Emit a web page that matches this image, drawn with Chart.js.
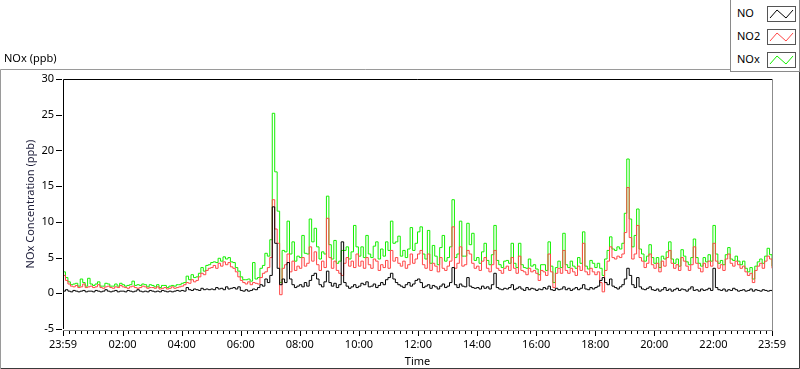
<!DOCTYPE html>
<html><head><meta charset="utf-8">
<script src="https://cdn.jsdelivr.net/npm/chart.js@4.4.1/dist/chart.umd.min.js"></script>
<style>
html,body{margin:0;padding:0;background:#fff;}
#wrap{position:relative;width:800px;height:369px;font-family:'Noto Sans',sans-serif;font-size:11px;color:#000;overflow:hidden;}
canvas{position:absolute;left:0;top:0;}
#ttl{position:absolute;left:4px;top:50px;line-height:16px;}
#legend{position:absolute;left:730px;top:0;width:68px;height:71px;border:1px solid #8a8a8a;border-top:none;background:#fff;}
.li{position:absolute;left:6px;height:16px;line-height:16px;}
.sw{position:absolute;left:36px;width:27px;height:14px;border:1px solid #555;background:#fff;}
.sw svg{position:absolute;left:0;top:0;}
</style></head><body>
<div id="wrap">
<canvas id="c" width="800" height="369"></canvas>
<div id="ttl">NOx (ppb)</div>
<div id="legend"></div>
</div>
<script>
// ---- data (5-minute samples from 23:59 to 23:59) ----
const seriesNames = ['NO', 'NO2', 'NOx'];
const sampleStepMinutes = 5;
const tickMinutes = [0, 121, 241, 361, 481, 601, 721, 841, 961, 1081, 1201, 1321, 1440];
const tickLabels = ['23:59','02:00','04:00','06:00','08:00','10:00','12:00','14:00','16:00','18:00','20:00','22:00','23:59'];
const yTicks = [-5, 0, 5, 10, 15, 20, 25, 30];

const NO = [
0.3,0.5,0.3,0.2,0.4,0.3,0.2,0.3,0.4,0.2,0.3,0.3,
0.2,0.4,0.3,0.2,0.3,0.5,0.3,0.2,0.3,0.4,0.2,0.3,
0.3,0.2,0.4,0.3,0.2,0.3,0.5,0.3,0.2,0.3,0.2,0.4,
0.3,0.2,0.3,0.2,0.4,0.3,0.2,0.3,0.2,0.3,0.4,0.3,
0.4,0.3,0.8,0.5,0.4,0.6,0.5,0.4,0.7,0.5,0.6,0.5,
0.6,0.5,0.8,0.6,0.7,0.5,0.9,0.6,0.7,0.8,0.6,0.9,
0.4,0.3,0.5,0.3,0.4,0.6,0.5,0.8,1.2,1.0,2.0,1.5,
2.5,12.1,7.0,3.5,1.2,2.0,1.5,4.3,2.0,1.2,0.8,1.0,
1.2,0.9,1.5,1.0,1.8,2.5,2.8,2.0,1.2,0.9,1.6,3.1,
1.5,1.0,1.4,0.8,1.2,7.2,1.5,1.0,0.7,0.9,1.2,0.8,
1.0,1.4,1.2,1.6,0.9,1.0,1.3,0.8,1.1,1.5,1.2,1.9,
2.2,2.8,2.0,1.5,1.2,1.0,0.8,1.2,1.5,1.0,1.3,1.8,
2.0,1.5,0.8,1.0,1.2,0.7,1.1,0.9,0.6,1.0,1.3,0.8,
1.0,1.5,3.6,1.2,0.8,1.3,1.0,0.9,2.2,1.0,0.8,0.7,
0.8,0.6,1.0,0.7,0.9,0.6,1.2,2.8,0.8,0.6,0.5,0.7,
0.6,0.8,1.2,0.5,0.7,0.9,0.6,0.4,0.8,0.5,0.7,0.6,
0.4,0.6,0.5,0.8,0.6,1.0,0.5,0.4,0.7,0.5,0.6,0.9,
0.5,0.7,0.4,0.6,0.8,0.5,0.7,1.2,0.6,0.5,0.8,0.6,
0.8,1.0,1.8,2.2,1.5,1.2,2.0,1.0,0.8,0.6,0.9,1.2,
2.0,3.5,2.5,1.2,0.8,2.2,0.9,0.6,0.5,0.7,0.9,0.5,
0.4,0.6,0.3,0.5,0.8,0.4,0.6,0.3,0.5,0.7,0.4,0.6,
0.5,0.3,0.6,0.9,0.4,0.5,0.3,0.6,0.4,0.5,0.7,0.4,
3.5,0.8,0.5,0.4,0.6,0.3,0.5,0.4,0.7,0.5,0.3,0.4,
0.5,0.3,0.4,0.6,0.3,0.5,0.4,0.3,0.5,0.4,0.3,0.4,
0.3];

const NO2 = [
2.5,1.8,1.3,1.0,0.9,1.1,0.8,0.9,1.3,0.8,0.9,1.0,
0.8,0.9,1.2,0.8,0.7,0.9,1.0,0.8,0.7,0.9,0.8,1.1,
0.9,0.8,0.7,0.9,1.0,0.8,0.7,0.8,1.0,0.9,0.7,0.8,
0.8,0.7,0.9,0.6,0.7,0.8,0.6,0.7,0.9,0.7,0.8,0.9,
1.0,1.2,1.5,1.4,1.9,1.6,1.8,2.3,2.8,2.6,3.2,3.5,
3.6,3.9,3.5,4.2,3.8,4.4,4.0,4.3,3.7,3.5,3.0,2.3,
1.8,1.5,1.3,1.6,1.2,1.5,1.4,1.3,2.2,2.8,3.0,3.6,
5.0,13.1,9.0,7.0,-0.2,3.5,4.0,5.5,3.0,4.5,3.2,3.8,
3.5,5.0,3.8,4.2,6.5,4.5,5.8,4.0,3.2,4.5,3.6,10.5,
5.0,3.5,4.5,3.2,2.8,2.5,4.2,5.0,3.8,4.5,3.6,5.5,
3.8,4.5,3.5,5.0,4.0,3.5,4.8,4.5,3.2,4.0,3.6,4.6,
3.5,6.0,4.5,5.0,4.2,3.8,4.5,3.5,4.0,5.5,4.2,4.8,
5.5,6.0,4.0,3.5,5.5,3.2,4.2,3.8,3.0,5.0,3.5,3.2,
3.8,4.5,9.3,3.5,4.2,6.5,3.8,4.0,6.0,5.5,4.2,3.5,
3.8,3.2,4.5,5.0,3.5,3.0,4.0,6.0,3.5,3.2,2.8,3.5,
3.8,3.2,5.0,3.5,2.8,5.2,3.2,3.0,2.6,3.5,3.0,3.2,
2.8,1.8,3.2,3.0,2.5,5.5,3.0,0.8,2.8,3.5,2.8,6.0,
3.2,2.8,3.5,3.0,2.5,3.8,3.2,7.0,3.0,2.6,3.5,3.0,
2.6,3.0,1.5,0.2,3.2,4.5,6.5,5.0,4.8,5.2,5.0,5.5,
8.5,14.8,7.8,4.8,5.5,9.5,5.0,4.5,3.6,4.2,5.5,4.0,
3.5,4.2,3.0,4.5,3.8,5.0,6.0,4.2,3.5,4.0,3.2,5.0,
4.5,3.8,3.2,4.0,6.5,4.2,3.5,3.0,4.2,3.6,4.5,3.8,
7.0,4.5,3.5,4.0,3.2,4.8,5.5,4.2,3.8,4.5,4.0,3.5,
3.8,3.0,2.5,2.8,1.5,3.2,3.8,4.2,3.5,4.5,5.2,4.8,
3.5];

const NOx = [
3.0,2.2,1.6,1.2,1.3,1.4,1.0,2.0,1.5,1.0,2.1,1.3,
1.1,1.3,1.6,1.0,1.0,1.4,1.3,1.0,1.0,1.3,1.0,1.4,
1.2,1.0,1.1,1.2,1.7,1.1,1.2,1.1,1.3,1.2,0.9,1.2,
1.1,0.9,1.2,0.8,1.1,1.1,0.8,1.0,1.1,1.0,1.2,1.2,
1.4,1.5,2.4,1.9,2.6,2.2,2.3,2.8,3.6,3.1,3.9,4.0,
4.3,4.4,4.3,4.9,4.5,5.1,4.8,5.0,4.4,4.3,3.6,3.1,
2.3,1.9,1.9,2.0,1.7,4.3,2.0,2.2,3.5,3.9,5.6,5.2,
7.5,25.2,17.0,11.5,1.5,6.0,5.8,10.1,5.5,7.2,4.5,5.2,
5.0,8.1,5.6,5.5,10.4,7.2,9.1,6.5,4.8,5.8,5.5,13.6,
6.8,4.8,7.4,4.2,4.5,6.0,6.0,6.5,4.8,5.8,9.5,6.5,
5.2,6.5,5.0,8.1,5.5,5.0,6.6,7.2,4.8,6.2,5.2,7.2,
6.0,10.1,7.0,7.2,8.0,5.2,6.0,5.0,6.2,9.2,6.0,7.0,
8.6,9.3,5.5,4.8,8.8,4.2,6.7,5.2,4.0,6.4,8.1,4.5,
5.0,6.5,13.1,5.0,5.5,10.1,5.2,5.2,9.8,6.8,8.4,4.6,
5.0,4.2,5.8,7.0,4.6,4.0,5.4,9.5,4.6,4.0,3.6,4.5,
4.6,4.2,7.0,4.2,3.6,7.0,4.0,3.6,3.5,4.8,3.8,4.0,
3.4,2.6,4.0,4.0,3.2,7.2,3.8,1.5,3.6,4.5,3.6,8.4,
4.0,3.6,4.5,3.8,3.5,5.0,4.2,8.6,3.8,3.4,4.6,4.2,
3.6,4.2,3.5,2.5,4.8,6.0,7.9,6.2,6.0,6.5,6.2,7.0,
11.2,18.8,10.4,6.5,8.1,11.8,6.2,5.5,4.5,5.2,6.8,5.0,
4.2,5.0,3.6,5.2,4.8,5.8,7.2,4.8,4.2,4.8,3.8,6.1,
5.2,4.4,4.0,5.0,7.6,5.0,4.2,3.8,5.0,4.4,5.4,4.5,
9.5,5.5,4.2,4.6,4.0,5.4,6.4,4.8,4.6,5.2,4.5,4.0,
4.5,3.5,3.0,3.6,2.0,3.8,4.4,4.8,4.2,5.2,6.3,5.4,
3.8];

const colors = { NO: '#000000', NO2: '#ff4646', NOx: '#14f000' };

// ---- build ----
const toPts = arr => arr.map((v, i) => ({ x: i * sampleStepMinutes, y: v }));
const FONT = "'Noto Sans', sans-serif";

// legend
const lg = document.getElementById('legend');
seriesNames.forEach((n, i) => {
  const t = document.createElement('div');
  t.className = 'li'; t.style.top = (5 + i * 23) + 'px'; t.textContent = n;
  lg.appendChild(t);
  const s = document.createElement('div');
  s.className = 'sw'; s.style.top = (6 + i * 23) + 'px';
  s.innerHTML = '<svg width="27" height="14"><polyline points="2,11 9,3 18,11 25,3" fill="none" stroke="' + colors[n] + '" stroke-width="1"/></svg>';
  lg.appendChild(s);
});

const framePlugin = {
  id: 'frame',
  afterDraw(chart) {
    const ctx = chart.ctx, a = chart.chartArea;
    const xs = chart.scales.x, ys = chart.scales.y;
    ctx.save();
    ctx.lineWidth = 1;
    // outer frame
    ctx.strokeStyle = '#9a9a9a';
    ctx.beginPath(); ctx.moveTo(0.5, 368); ctx.lineTo(0.5, 69.5); ctx.lineTo(730, 69.5); ctx.stroke();
    ctx.strokeStyle = '#3a3a3a';
    ctx.beginPath(); ctx.moveTo(0.5, 368.5); ctx.lineTo(799.5, 368.5); ctx.lineTo(799.5, 71); ctx.stroke();
    // plot borders
    ctx.strokeStyle = '#000';
    ctx.beginPath(); ctx.moveTo(Math.round(a.left) + 0.5, Math.round(a.bottom));
    ctx.lineTo(Math.round(a.left) + 0.5, Math.round(a.top) + 0.5);
    ctx.lineTo(Math.round(a.right), Math.round(a.top) + 0.5); ctx.stroke();
    ctx.strokeStyle = '#8c8c8c';
    ctx.beginPath(); ctx.moveTo(Math.round(a.right) + 0.5, Math.round(a.top));
    ctx.lineTo(Math.round(a.right) + 0.5, Math.round(a.bottom) + 1.5);
    ctx.moveTo(Math.round(a.left), Math.round(a.bottom) + 1.5);
    ctx.lineTo(Math.round(a.right) + 1, Math.round(a.bottom) + 1.5); ctx.stroke();
    // y ticks
    ctx.strokeStyle = '#000';
    ctx.beginPath();
    yTicks.forEach(v => {
      const y = Math.round(ys.getPixelForValue(v)) + 0.5;
      ctx.moveTo(a.left - 7, y); ctx.lineTo(a.left - 1, y);
    });
    ctx.stroke();
    // x ticks (major + minor)
    const by = Math.round(a.bottom) + 2;
    ctx.beginPath();
    for (let i = 0; i < tickMinutes.length - 1; i++) {
      const m0 = tickMinutes[i], m1 = tickMinutes[i + 1];
      for (let k = 0; k < 10; k++) {
        const x = Math.round(xs.getPixelForValue(m0 + (m1 - m0) * k / 10)) + 0.5;
        ctx.moveTo(x, by); ctx.lineTo(x, by + (k === 0 ? 5 : 3));
      }
    }
    const xe = Math.round(xs.getPixelForValue(1440)) + 0.5;
    ctx.moveTo(xe, by); ctx.lineTo(xe, by + 5);
    ctx.stroke();
    ctx.restore();
  }
};

const ds = (name, arr) => ({
  label: name, data: toPts(arr), borderColor: colors[name], backgroundColor: colors[name],
  borderWidth: 1, pointRadius: 0, tension: 0, fill: false, stepped: true
});

new Chart(document.getElementById('c'), {
  type: 'line',
  data: { datasets: [ds('NO', NO), ds('NO2', NO2), ds('NOx', NOx)] },
  options: {
    responsive: false, animation: false, devicePixelRatio: 1,
    layout: { padding: { left: 0, right: 28, top: 79, bottom: 0 } },
    plugins: { legend: { display: false }, tooltip: { enabled: false } },
    scales: {
      x: {
        type: 'linear', min: 0, max: 1440,
        afterFit(s) { s.height = 40; },
        afterBuildTicks(s) { s.ticks = tickMinutes.map(v => ({ value: v })); },
        grid: { display: false, drawTicks: false },
        border: { display: false },
        ticks: { autoSkip: false, maxRotation: 0, padding: 9, color: '#000',
          font: { family: FONT, size: 11 },
          callback: (v, i) => tickLabels[i] },
        title: { display: true, text: 'Time', color: '#000', font: { family: FONT, size: 11 }, padding: { top: 0, bottom: 1 } }
      },
      y: {
        min: -5, max: 30,
        afterFit(s) { s.width = 63; },
        afterBuildTicks(s) { s.ticks = yTicks.map(v => ({ value: v })); },
        grid: { display: false, drawTicks: false },
        border: { display: false },
        ticks: { padding: 9, color: '#000', font: { family: FONT, size: 11 } },
        title: { display: true, text: 'NOx Concentration (ppb)', color: '#1c1c38', font: { family: FONT, size: 11 }, padding: { top: 24, bottom: 0 } }
      }
    }
  },
  plugins: [framePlugin]
});
</script>
</body></html>
